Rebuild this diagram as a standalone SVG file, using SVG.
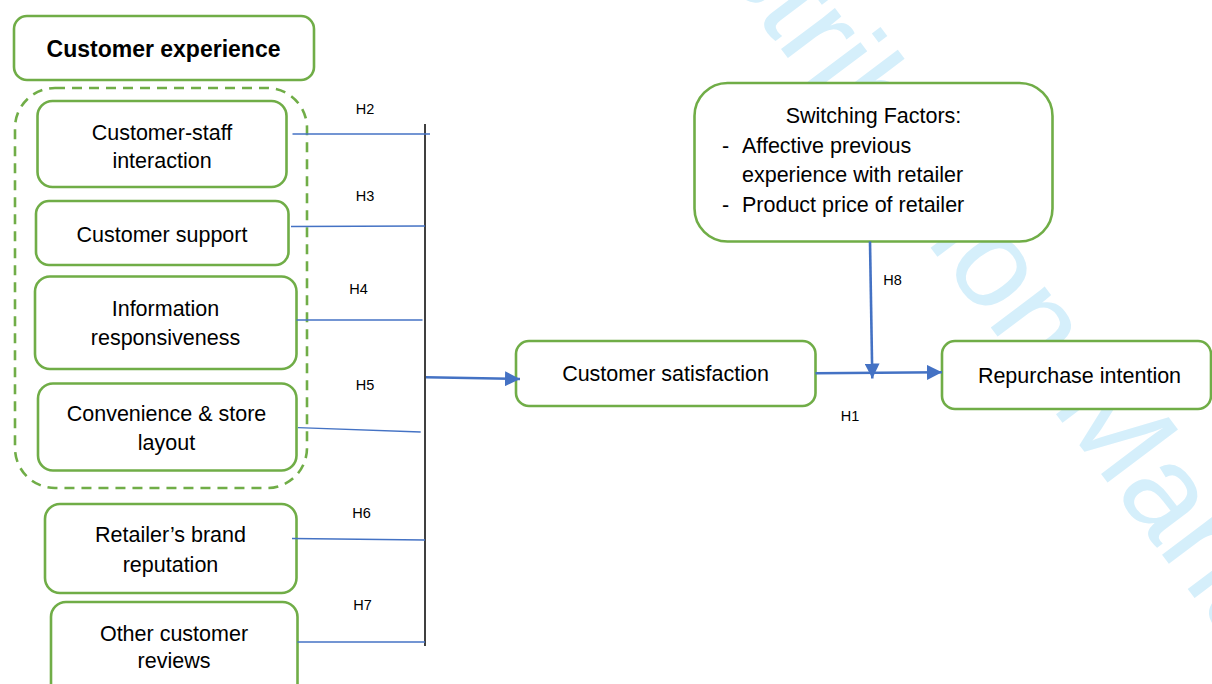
<svg xmlns="http://www.w3.org/2000/svg" width="1212" height="684" viewBox="0 0 1212 684">
  <style>
    .box { fill: #ffffff; stroke: #70ad47; stroke-width: 2.6; }
    .dash { fill: none; stroke: #70ad47; stroke-width: 2.6; stroke-dasharray: 10 7; }
    .t { font-family: "Liberation Sans", Arial, sans-serif; font-size: 21.5px; fill: #000000; text-anchor: middle; }
    .tl { font-family: "Liberation Sans", Arial, sans-serif; font-size: 21.5px; fill: #000000; }
    .tb { font-family: "Liberation Sans", Arial, sans-serif; font-size: 23px; font-weight: bold; fill: #000000; text-anchor: middle; }
    .h { font-family: "Liberation Sans", Arial, sans-serif; font-size: 14.5px; fill: #000000; text-anchor: middle; }
    .thin { stroke: #4472c4; stroke-width: 1.3; fill: none; }
    .thick { stroke: #4472c4; stroke-width: 2.6; fill: none; }
    .wm { font-family: "Liberation Sans", Arial, sans-serif; font-size: 128px; fill: #d5effb; }
  </style>
  <defs>
    <marker id="arr" viewBox="0 0 15 15" refX="15" refY="7.5" markerWidth="15" markerHeight="15" markerUnits="userSpaceOnUse" orient="auto">
      <path d="M0,0 L15,7.5 L0,15 z" fill="#4472c4"/>
    </marker>
  </defs>
  <rect width="1212" height="684" fill="#ffffff"/>
  <g id="watermark">
    <text class="wm" transform="translate(643,-134) rotate(53)">Distribution Management</text>
  </g>
  <g id="customer-experience">
    <rect class="box" x="14" y="16" width="300" height="64" rx="13"/>
    <text class="tb" x="163.5" y="57">Customer experience</text>
  </g>
  <g id="experience-group">
    <rect class="dash" x="15" y="88" width="292" height="400" rx="40"/>
  </g>
  <g id="customer-staff">
    <rect class="box" x="37.5" y="101" width="249" height="86" rx="15"/>
    <text class="t" x="162" y="140">Customer-staff</text>
    <text class="t" x="162" y="167.5">interaction</text>
  </g>
  <g id="customer-support">
    <rect class="box" x="36" y="201" width="252.5" height="64" rx="13"/>
    <text class="t" x="162" y="242">Customer support</text>
  </g>
  <g id="information">
    <rect class="box" x="35" y="276.5" width="261.5" height="92.5" rx="15"/>
    <text class="t" x="165.5" y="316">Information</text>
    <text class="t" x="165.5" y="345">responsiveness</text>
  </g>
  <g id="convenience">
    <rect class="box" x="38" y="383.5" width="258.5" height="87" rx="15"/>
    <text class="t" x="166.5" y="421">Convenience &amp; store</text>
    <text class="t" x="166.5" y="450">layout</text>
  </g>
  <g id="brand">
    <rect class="box" x="45" y="504" width="251.5" height="89" rx="15"/>
    <text class="t" x="170.5" y="542">Retailer’s brand</text>
    <text class="t" x="170.5" y="572">reputation</text>
  </g>
  <g id="reviews">
    <rect class="box" x="51" y="602" width="246.5" height="100" rx="15"/>
    <text class="t" x="174" y="641">Other customer</text>
    <text class="t" x="174" y="668">reviews</text>
  </g>
  <g id="customer-satisfaction">
    <rect class="box" x="516" y="341" width="299.5" height="65" rx="13"/>
    <text class="t" x="665.5" y="381">Customer satisfaction</text>
  </g>
  <g id="switching-factors">
    <rect class="box" x="694.5" y="83" width="358" height="158.5" rx="33"/>
    <text class="t" x="873.5" y="123">Switching Factors:</text>
    <text class="tl" x="722" y="153">-</text>
    <text class="tl" x="742" y="153">Affective previous</text>
    <text class="tl" x="742" y="182">experience with retailer</text>
    <text class="tl" x="722" y="212">-</text>
    <text class="tl" x="742" y="212">Product price of retailer</text>
  </g>
  <g id="repurchase-intention">
    <rect class="box" x="942" y="341" width="269" height="68" rx="13"/>
    <text class="t" x="1079.5" y="383">Repurchase intention</text>
  </g>
  <g id="connectors">
    <line x1="425" y1="124" x2="425" y2="646" stroke="#000000" stroke-width="1.5"/>
    <line class="thin" x1="292.5" y1="134" x2="430" y2="134"/>
    <line class="thin" x1="291" y1="226.5" x2="425" y2="226"/>
    <line class="thin" x1="296.5" y1="320" x2="422.5" y2="320"/>
    <line class="thin" x1="298" y1="427.7" x2="420.7" y2="432"/>
    <line class="thin" x1="292" y1="538.5" x2="425" y2="540"/>
    <line class="thin" x1="297.5" y1="642" x2="425" y2="642"/>
    <line class="thick" x1="426" y1="377.3" x2="520" y2="379" marker-end="url(#arr)"/>
    <line class="thick" x1="815.5" y1="373.3" x2="942" y2="372.3" marker-end="url(#arr)"/>
    <line class="thick" x1="870" y1="241.5" x2="872.3" y2="378.5" marker-end="url(#arr)"/>
    <text class="h" x="365" y="114">H2</text>
    <text class="h" x="365" y="201">H3</text>
    <text class="h" x="358.5" y="294">H4</text>
    <text class="h" x="365" y="390">H5</text>
    <text class="h" x="361.5" y="518">H6</text>
    <text class="h" x="362.5" y="610">H7</text>
    <text class="h" x="892.5" y="284.5">H8</text>
    <text class="h" x="850" y="421">H1</text>
  </g>
</svg>
